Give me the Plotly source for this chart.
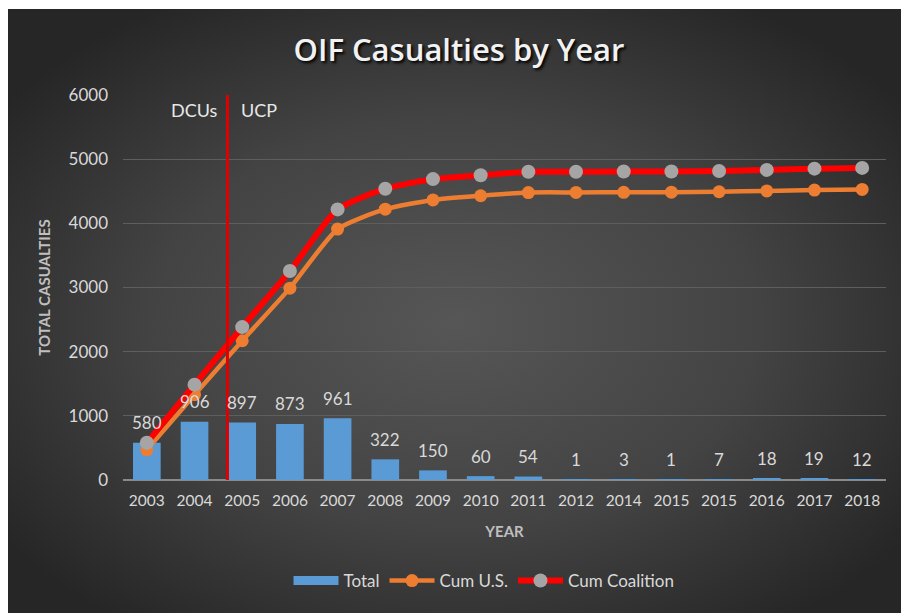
import base64
import plotly.graph_objects as go

# Yearly totals and cumulative casualty series (2015 appears twice in the source table)
years = ["2003", "2004", "2005", "2006", "2007", "2008", "2009", "2010",
         "2011", "2012", "2014", "2015", "2015", "2016", "2017", "2018"]
total = [580, 906, 897, 873, 961, 322, 150, 60, 54, 1, 3, 1, 7, 18, 19, 12]
cum_us = [470, 1330, 2170, 2990, 3910, 4220, 4365, 4430, 4480, 4482, 4484,
          4486, 4492, 4505, 4518, 4528]
cum_coalition = [580, 1486, 2383, 3256, 4217, 4539, 4689, 4749, 4803, 4804,
                 4807, 4808, 4815, 4833, 4852, 4864]
y_ticks = [0, 1000, 2000, 3000, 4000, 5000, 6000]

# Transition between the two periods, in category units
split_pos = 1.69

W, H = 901, 613
L, R, T, B = 123, 15, 95, 133
plot_w = W - L - R
plot_h = H - T - B

FONT = "Lato, 'Open Sans', sans-serif"
LIGHT = "#d9d9d9"

idx = list(range(len(years)))

fig = go.Figure()

# legend swatch for the bars (wide flat bar like the source legend)
fig.add_trace(go.Scatter(x=[None], y=[None], mode="lines", name="Total",
                         line=dict(color="#5b9bd5", width=9)))

fig.add_trace(go.Bar(x=idx, y=total, width=0.58, name="Total",
                     marker=dict(color="#5b9bd5", line=dict(width=0)),
                     showlegend=False, hoverinfo="y"))

fig.add_trace(go.Scatter(x=idx, y=cum_us, mode="lines+markers", name="Cum U.S.",
                         line=dict(color="#ed7d31", width=4.5, shape="spline", smoothing=0.6),
                         marker=dict(color="#ed7d31", size=13)))

fig.add_trace(go.Scatter(x=idx, y=cum_coalition, mode="lines+markers", name="Cum Coalition",
                         line=dict(color="#ff0000", width=6, shape="spline", smoothing=0.6),
                         marker=dict(color="#a5a5a5", size=14)))

# value labels above each bar
annotations = []
for i, v in zip(idx, total):
    annotations.append(dict(x=i, y=v, xref="x", yref="y", text=str(v),
                            showarrow=False, yanchor="middle", yshift=20,
                            font=dict(family=FONT, size=17, color=LIGHT)))

# period labels on either side of the divider
annotations.append(dict(x=split_pos, y=5760, xref="x", yref="y", text="DCUs",
                        showarrow=False, xanchor="right", xshift=-7, yanchor="middle",
                        font=dict(family=FONT, size=18, color="#e8e8e8")))
annotations.append(dict(x=split_pos, y=5760, xref="x", yref="y", text="UCP",
                        showarrow=False, xanchor="left", xshift=12, yanchor="middle",
                        font=dict(family=FONT, size=18, color="#e8e8e8")))

# radial-gradient panel drawn as an inline SVG
svg = """<svg xmlns='http://www.w3.org/2000/svg' width='893' height='604' viewBox='0 0 893 604' preserveAspectRatio='none'>
<defs><radialGradient id='g' cx='50%' cy='52%' r='62%'>
<stop offset='0%' stop-color='#565656'/>
<stop offset='55%' stop-color='#434343'/>
<stop offset='100%' stop-color='#262626'/>
</radialGradient></defs>
<rect width='893' height='604' fill='url(#g)'/></svg>"""
svg_src = "data:image/svg+xml;base64," + base64.b64encode(svg.encode()).decode()

panel_x0, panel_y0 = 8, 9
images = [dict(source=svg_src, xref="paper", yref="paper",
               x=(panel_x0 - L) / plot_w, y=1 + (T - panel_y0) / plot_h,
               sizex=(W - panel_x0) / plot_w, sizey=(H - panel_y0) / plot_h,
               xanchor="left", yanchor="top", sizing="stretch", layer="below")]

fig.update_layout(
    width=W, height=H,
    margin=dict(l=L, r=R, t=T, b=B, pad=0),
    paper_bgcolor="white",
    plot_bgcolor="rgba(0,0,0,0)",
    images=images,
    annotations=annotations,
    title=dict(text="OIF Casualties by Year", x=459 / W, xref="container", xanchor="center",
               y=1 - 50 / H, yref="container", yanchor="middle",
               font=dict(family="'Open Sans', Lato, sans-serif", size=31, color="#f2f2f2",
                         weight=600, shadow="2px 2px 3px #000000")),
    xaxis=dict(range=[-0.5, len(years) - 0.5], tickmode="array", tickvals=idx,
               ticktext=years, showgrid=False, zeroline=False, showline=False,
               ticks="", ticklabelstandoff=9,
               tickfont=dict(family=FONT, size=15.5, color=LIGHT),
               title=dict(text="YEAR", standoff=18,
                          font=dict(family=FONT, size=15, color="#bfbfbf", weight=700))),
    yaxis=dict(range=[0, 6000], tickmode="array", tickvals=y_ticks,
               showgrid=True, gridcolor="#5e5e5e", gridwidth=1,
               zeroline=True, zerolinecolor="#8a8a8a", zerolinewidth=1.5,
               showline=False, ticks="", ticklabelstandoff=14,
               tickfont=dict(family=FONT, size=17, color=LIGHT),
               title=dict(text="TOTAL CASUALTIES", standoff=14,
                          font=dict(family=FONT, size=15, color="#bfbfbf", weight=700))),
    legend=dict(orientation="h", x=(484 - L) / plot_w, xanchor="center",
                y=(480 - 581) / plot_h, yanchor="middle",
                bgcolor="rgba(0,0,0,0)", font=dict(family=FONT, size=17, color=LIGHT),
                itemwidth=45, traceorder="normal"),
    bargap=0.4,
    showlegend=True,
)

# divider line between periods
fig.add_shape(type="line", xref="x", yref="y", x0=split_pos, x1=split_pos,
              y0=-25, y1=6040, line=dict(color="#e00000", width=3), layer="above")

fig.write_html("out.html")
